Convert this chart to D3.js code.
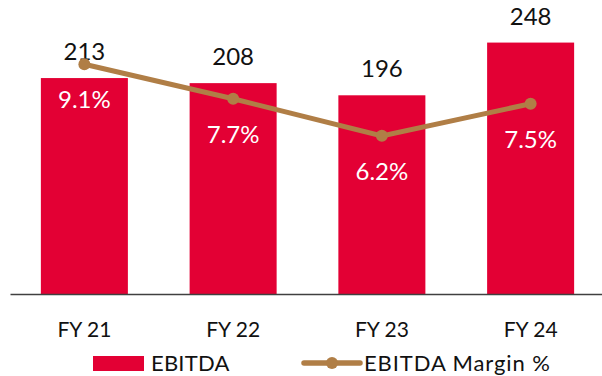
<!DOCTYPE html>
<html>
<head>
<meta charset="utf-8">
<script src="https://cdn.jsdelivr.net/npm/d3@7"></script>
<style>
  html, body { margin: 0; padding: 0; background: #fff; }
  svg { display: block; font-family: Lato, "Open Sans", sans-serif; }
</style>
</head>
<body>
<svg id="chart" width="602" height="376"></svg>
<script>
// EBITDA by fiscal year with margin overlay
const years = ["FY 21", "FY 22", "FY 23", "FY 24"];
const ebitda = [213, 208, 196, 248];
const margin = [9.1, 7.7, 6.2, 7.5];
const legendLabels = ["EBITDA", "EBITDA Margin %"];

const barColor = "#e30034";
const lineColor = "#b07e46";

const svg = d3.select("#chart");
const axisY = 294;

const x = d3.scaleBand().domain(years).range([10, 605]).paddingInner(0.415).paddingOuter(0.2075);
const y = d3.scaleLinear().domain([0, 290]).range([axisY, 0]);
const y2 = d3.scaleLinear().domain([0, 11.7]).range([289, 0]);

const cx = d => x(d) + x.bandwidth() / 2;

// bars
svg.append("g").selectAll("rect").data(years).join("rect")
  .attr("x", d => x(d))
  .attr("y", (d, i) => y(ebitda[i]))
  .attr("width", x.bandwidth())
  .attr("height", (d, i) => axisY - y(ebitda[i]))
  .attr("fill", barColor);

// value labels above bars
svg.append("g").selectAll("text").data(years).join("text")
  .attr("x", d => cx(d))
  .attr("y", (d, i) => y(ebitda[i]) - 18)
  .attr("text-anchor", "middle")
  .attr("font-size", 24)
  .attr("fill", "#111")
  .text((d, i) => ebitda[i]);

// x axis
const xAxis = svg.append("g")
  .attr("transform", `translate(0,${axisY})`)
  .call(d3.axisBottom(x).tickSize(0).tickSizeOuter(0).tickPadding(28));
xAxis.select(".domain").attr("stroke", "#404040").attr("stroke-width", 1.5);
xAxis.selectAll("text").attr("font-size", 21).attr("fill", "#111").attr("font-family", "Lato, sans-serif");

// margin line
const line = d3.line().x((d, i) => cx(years[i])).y(d => y2(d));
svg.append("path").datum(margin)
  .attr("d", line)
  .attr("fill", "none")
  .attr("stroke", lineColor)
  .attr("stroke-width", 5);
svg.append("g").selectAll("circle").data(margin).join("circle")
  .attr("cx", (d, i) => cx(years[i]))
  .attr("cy", d => y2(d))
  .attr("r", 6)
  .attr("fill", lineColor);

// margin labels inside bars
svg.append("g").selectAll("text").data(margin).join("text")
  .attr("x", (d, i) => cx(years[i]))
  .attr("y", d => y2(d) + 44)
  .attr("text-anchor", "middle")
  .attr("font-size", 24)
  .attr("fill", "#fff")
  .text(d => d.toFixed(1) + "%");

// legend
const lg = svg.append("g");
lg.append("rect").attr("x", 93).attr("y", 356).attr("width", 51).attr("height", 15).attr("fill", barColor);
lg.append("text").attr("x", 151).attr("y", 370.5).attr("font-size", 22)
  .attr("letter-spacing", 0.2).attr("fill", "#111").text(legendLabels[0]);
lg.append("line").attr("x1", 304).attr("x2", 360).attr("y1", 363).attr("y2", 363)
  .attr("stroke", lineColor).attr("stroke-width", 5.5).attr("stroke-linecap", "round");
lg.append("circle").attr("cx", 332).attr("cy", 363).attr("r", 6).attr("fill", lineColor);
lg.append("text").attr("x", 364).attr("y", 370.5).attr("font-size", 22)
  .attr("letter-spacing", 0.9).attr("fill", "#111").text(legendLabels[1]);
</script>
</body>
</html>
